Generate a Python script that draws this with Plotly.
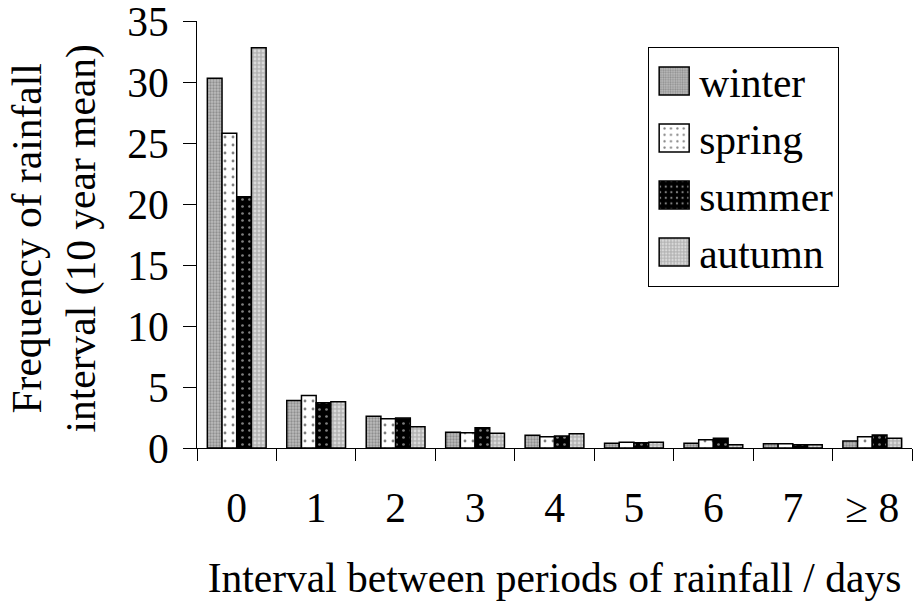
import plotly.graph_objects as go

categories = ["0", "1", "2", "3", "4", "5", "6", "7", "\u2265 8"]
winter = [30.3, 3.9, 2.6, 1.3, 1.05, 0.38, 0.38, 0.35, 0.57]
spring = [25.8, 4.3, 2.4, 1.25, 0.93, 0.47, 0.68, 0.35, 0.93]
summer = [20.6, 3.7, 2.45, 1.65, 0.98, 0.43, 0.79, 0.27, 1.07]
autumn = [32.8, 3.8, 1.75, 1.2, 1.17, 0.47, 0.27, 0.27, 0.79]

FONT = "Liberation Serif, Times New Roman, serif"
FS = 41.5

series = [
    ("winter", winter, dict(shape=".", bgcolor="#bcbcbc", fgcolor="#606060", size=3, solidity=0.45)),
    ("spring", spring, dict(shape=".", bgcolor="#ffffff", fgcolor="#000000", size=8, solidity=0.1)),
    ("summer", summer, dict(shape=".", bgcolor="#000000", fgcolor="#ffffff", size=7, solidity=0.12)),
    ("autumn", autumn, dict(shape=".", bgcolor="#b4b4b4", fgcolor="#ffffff", size=4, solidity=0.4)),
]

fig = go.Figure()
for name, vals, pat in series:
    fig.add_trace(go.Bar(
        name=name, x=categories, y=vals,
        marker=dict(color=pat["bgcolor"], pattern=pat,
                    line=dict(color="black", width=1.5)),
    ))

fig.update_layout(
    width=920, height=602,
    margin=dict(l=197, r=8, t=21, b=154),
    paper_bgcolor="white", plot_bgcolor="white",
    barmode="group", bargap=0.26, bargroupgap=0,
    font=dict(family=FONT, size=FS, color="black"),
    showlegend=True,
    legend=dict(
        x=0.631, y=0.94, xanchor="left", yanchor="top",
        bordercolor="black", borderwidth=1, bgcolor="white",
        font=dict(family=FONT, size=FS),
        tracegroupgap=0, itemwidth=40,
    ),
    xaxis=dict(
        type="category", showline=True, linecolor="black", linewidth=1,
        ticks="outside", tickson="boundaries", ticklen=12, tickcolor="black",
        ticklabelstandoff=23, showgrid=False, automargin=False,
        title=dict(text="Interval between periods of rainfall / days", standoff=33,
                   font=dict(family=FONT, size=FS)),
    ),
    yaxis=dict(
        range=[0, 35], tickmode="linear", tick0=0, dtick=5,
        showline=True, linecolor="black", linewidth=1,
        ticks="outside", ticklen=13, tickcolor="black", showgrid=False,
        ticklabelstandoff=6, ticklabeloverflow="allow",
        zeroline=False, automargin=False,
    ),
    annotations=[dict(
        text="Frequency of rainfall<br>interval (10 year mean)",
        xref="paper", yref="paper", x=-0.199, y=0.49,
        xanchor="center", yanchor="middle", textangle=-90, showarrow=False,
        font=dict(family=FONT, size=FS),
    )],
)

# larger legend swatches
post = """
function bigSwatches(){
  document.querySelectorAll('.legend .legendpoints path').forEach(function(p){
    p.setAttribute('d', 'M15,14H-15V-14H15Z');
  });
}
bigSwatches();
setTimeout(bigSwatches, 50);
setTimeout(bigSwatches, 300);
"""

fig.write_html("out.html", post_script=post)
